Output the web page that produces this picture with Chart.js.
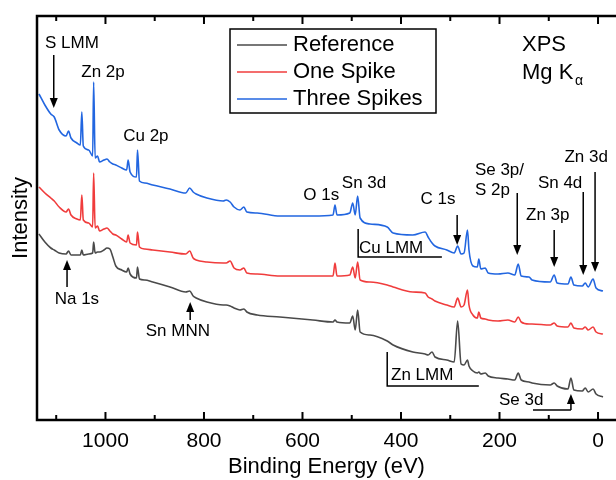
<!DOCTYPE html>
<html lang="en">
<head>
    <meta charset="UTF-8"/>
    <title>XPS survey</title>
    <style>
        body { margin: 0; background: #fff; }
        #chart { display: block; }
    </style>
    <script src="https://cdn.jsdelivr.net/npm/chart.js"></script>
</head>
<body>
    <canvas id="chart" width="616" height="480"></canvas>
    <script>
        // binding energy (eV), shared by the three spectra
        var energy = [1135, 1123, 1111, 1104, 1094, 1080, 1075, 1070, 1058, 1051, 1048, 1045, 1034, 1026, 1024, 1021,
            1016, 1012, 1003, 997, 991, 985, 979, 967, 957, 954, 950, 937, 935, 931, 920, 904, 869, 837, 829, 822,
            816, 794, 761, 755, 747, 739, 727, 719, 713, 692, 646, 579, 538, 534, 530, 504, 498, 493, 488, 483,
            463, 428, 416, 376, 351, 345, 337, 331, 307, 292, 285, 278, 272, 265, 262, 254, 245, 242, 238, 229,
            223, 203, 183, 169, 162, 156, 140, 134, 97, 89, 83, 61, 55, 49, 32, 26, 20, 10, 4, -10];

        // intensity (a.u., offset for display)
        var reference = [186, 178, 172, 170, 167, 166, 169, 165, 165, 165, 170, 165, 166, 167, 178, 167,
            168, 168, 170, 172, 171, 163, 154, 150, 148, 152, 146, 142, 153, 141, 140, 138, 133, 128, 129, 124,
            122, 118, 115, 115, 114, 112, 110, 111, 108, 105, 103, 100, 98, 100, 98, 97, 104, 90, 110, 88,
            85, 79, 75, 68, 66, 65, 68, 63, 60, 58, 99, 56, 55, 60, 54, 49, 47, 48, 46, 47,
            44, 42, 41, 40, 47, 40, 38, 37, 35, 37, 34, 31, 42, 30, 29, 32, 28, 31, 26, 23];

        var oneSpike = [233, 227, 222, 219, 213, 208, 211, 205, 201, 200, 225, 200, 197, 193, 247, 192,
            194, 189, 191, 192, 189, 186, 185, 181, 178, 185, 177, 175, 188, 173, 171, 170, 168, 166, 169, 162,
            160, 158, 157, 157, 159, 152, 150, 152, 147, 146, 144, 144, 144, 157, 144, 145, 153, 142, 158, 140,
            138, 135, 133, 128, 127, 123, 121, 119, 115, 113, 122, 113, 115, 130, 115, 105, 102, 108, 102, 101,
            100, 99, 100, 98, 103, 98, 96, 96, 95, 97, 94, 93, 97, 92, 91, 93, 90, 93, 88, 86];

        var threeSpikes = [326, 315, 306, 303, 290, 284, 289, 282, 277, 275, 308, 274, 270, 264, 338, 262,
            264, 258, 260, 261, 258, 256, 255, 252, 250, 260, 248, 243, 270, 239, 237, 235, 231, 227, 232, 228,
            226, 222, 219, 220, 218, 213, 210, 213, 208, 207, 204, 204, 205, 215, 205, 207, 217, 205, 224, 202,
            196, 193, 187, 185, 188, 183, 177, 174, 170, 167, 174, 166, 167, 190, 170, 154, 153, 161, 151, 152,
            147, 146, 147, 145, 156, 144, 143, 140, 138, 145, 137, 136, 143, 135, 134, 137, 133, 141, 132, 129];

        var majorTicks = [1000, 800, 600, 400, 200, 0];
        var minorTicks = [1100, 900, 700, 500, 300, 100];

        var FONT = 'Liberation Sans, Arial, sans-serif';

        // peak labels: text at (x eV, y a.u.), arrow from a to b
        var labels = [
            { text: 'S LMM', x: 1068, y: 377, arrow: [[1105, 365], [1105, 312]] },
            { text: 'Zn 2p', x: 1005, y: 348 },
            { text: 'Cu 2p', x: 918, y: 284 },
            { text: 'O 1s', x: 562, y: 225 },
            { text: 'Sn 3d', x: 475, y: 237 },
            { text: 'C 1s', x: 325, y: 221, arrow: [[286, 205], [286, 175]] },
            { text: 'Se 3p/', x: 250, y: 250, align: 'left' },
            { text: 'S 2p', x: 250, y: 230, align: 'left', arrow: [[164, 227], [164, 165]] },
            { text: 'Zn 3p', x: 102, y: 205, arrow: [[89, 190], [89, 153]] },
            { text: 'Sn 4d', x: 77, y: 237, arrow: [[30, 228], [30, 145]] },
            { text: 'Zn 3d', x: 24, y: 263, arrow: [[6, 248], [6, 148]] },
            { text: 'Cu LMM', x: 420, y: 172, bracket: [[487, 191], [487, 163], [317, 163]] },
            { text: 'Zn LMM', x: 357, y: 45, bracket: [[428, 68], [428, 34], [242, 34]] },
            { text: 'Se 3d', x: 156, y: 20, bracket: [[132, 10], [55, 10]], arrow: [[55, 10], [55, 26]] },
            { text: 'Na 1s', x: 1058, y: 121, arrow: [[1078, 133], [1078, 160]] },
            { text: 'Sn MNN', x: 853, y: 89, arrow: [[828, 100], [828, 118]] }
        ];

        function points(values) {
            return energy.map(function (e, i) { return { x: e, y: values[i] }; });
        }

        function drawArrow(ctx, x1, y1, x2, y2) {
            var ang = Math.atan2(y2 - y1, x2 - x1);
            ctx.beginPath();
            ctx.moveTo(x1, y1);
            ctx.lineTo(x2 - 8 * Math.cos(ang), y2 - 8 * Math.sin(ang));
            ctx.stroke();
            ctx.beginPath();
            ctx.moveTo(x2, y2);
            ctx.lineTo(x2 - 10 * Math.cos(ang) + 4 * Math.sin(ang), y2 - 10 * Math.sin(ang) - 4 * Math.cos(ang));
            ctx.lineTo(x2 - 10 * Math.cos(ang) - 4 * Math.sin(ang), y2 - 10 * Math.sin(ang) + 4 * Math.cos(ang));
            ctx.closePath();
            ctx.fill();
        }

        var decorations = {
            id: 'decorations',
            beforeDraw: function (chart) {
                var ctx = chart.ctx;
                ctx.save();
                ctx.fillStyle = '#fff';
                ctx.fillRect(0, 0, chart.width, chart.height);
                ctx.restore();
            },
            afterDraw: function (chart) {
                var ctx = chart.ctx;
                var area = chart.chartArea;
                var xs = chart.scales.x, ys = chart.scales.y;
                ctx.save();

                // frame (right edge falls outside the picture)
                ctx.strokeStyle = '#000';
                ctx.lineWidth = 2.5;
                ctx.beginPath();
                ctx.moveTo(area.right + 2, area.top);
                ctx.lineTo(area.left, area.top);
                ctx.lineTo(area.left, area.bottom);
                ctx.lineTo(area.right + 2, area.bottom);
                ctx.stroke();

                ctx.lineWidth = 2;
                majorTicks.concat(minorTicks).forEach(function (v) {
                    var len = majorTicks.indexOf(v) >= 0 ? 8 : 5;
                    var px = xs.getPixelForValue(v);
                    ctx.beginPath();
                    ctx.moveTo(px, area.bottom);
                    ctx.lineTo(px, area.bottom - len);
                    ctx.moveTo(px, area.top);
                    ctx.lineTo(px, area.top + len);
                    ctx.stroke();
                });

                // legend box
                ctx.lineWidth = 1.5;
                ctx.strokeRect(230, 29, 206, 84);
                ctx.font = '22px ' + FONT;
                ctx.textBaseline = 'middle';
                ctx.textAlign = 'left';
                chart.data.datasets.forEach(function (ds, i) {
                    var y = 45 + i * 27;
                    ctx.strokeStyle = ds.borderColor;
                    ctx.lineWidth = 1.5;
                    ctx.beginPath();
                    ctx.moveTo(237, y);
                    ctx.lineTo(287, y);
                    ctx.stroke();
                    ctx.fillStyle = '#000';
                    ctx.fillText(ds.label, 293, y);
                });

                ctx.fillText('XPS', 522, 45);
                ctx.fillText('Mg K', 522, 73);
                ctx.font = '14px ' + FONT;
                ctx.fillText('\u03b1', 575, 81);

                // peak labels
                ctx.font = '17px ' + FONT;
                ctx.strokeStyle = '#000';
                ctx.fillStyle = '#000';
                ctx.lineWidth = 1.5;
                labels.forEach(function (l) {
                    ctx.textAlign = l.align || 'center';
                    ctx.fillText(l.text, xs.getPixelForValue(l.x), ys.getPixelForValue(l.y));
                    if (l.bracket) {
                        ctx.beginPath();
                        l.bracket.forEach(function (p, j) {
                            var px = xs.getPixelForValue(p[0]), py = ys.getPixelForValue(p[1]);
                            if (j === 0) ctx.moveTo(px, py); else ctx.lineTo(px, py);
                        });
                        ctx.stroke();
                    }
                    if (l.arrow) {
                        drawArrow(ctx,
                            xs.getPixelForValue(l.arrow[0][0]), ys.getPixelForValue(l.arrow[0][1]),
                            xs.getPixelForValue(l.arrow[1][0]), ys.getPixelForValue(l.arrow[1][1]));
                    }
                });
                ctx.restore();
            }
        };

        Chart.defaults.font.family = FONT;
        Chart.defaults.color = '#000';

        new Chart(document.getElementById('chart').getContext('2d'), {
            type: 'line',
            data: {
                datasets: [
                    { label: 'Reference', data: points(reference), borderColor: '#4a4a4a' },
                    { label: 'One Spike', data: points(oneSpike), borderColor: '#f03c3c' },
                    { label: 'Three Spikes', data: points(threeSpikes), borderColor: '#2266e0' }
                ]
            },
            options: {
                responsive: false,
                animation: false,
                devicePixelRatio: 1,
                layout: { padding: { top: 16, left: 0, right: 0, bottom: 0 } },
                elements: {
                    point: { radius: 0 },
                    line: { borderWidth: 1.6, cubicInterpolationMode: 'monotone' }
                },
                plugins: {
                    legend: { display: false },
                    tooltip: { enabled: false }
                },
                scales: {
                    x: {
                        type: 'linear',
                        reverse: true,
                        min: -36.5,
                        max: 1139,
                        afterBuildTicks: function (s) {
                            s.ticks = majorTicks.map(function (v) { return { value: v }; });
                        },
                        afterFit: function (s) { s.height = 60; },
                        grid: { display: false, drawTicks: false },
                        border: { display: false },
                        ticks: {
                            font: { size: 21 }, color: '#000', padding: 9, maxRotation: 0, autoSkip: false,
                            callback: function (v) { return String(v); }
                        },
                        title: { display: true, text: 'Binding Energy (eV)', font: { size: 22 }, color: '#000', padding: { top: 0, bottom: 0 } }
                    },
                    y: {
                        min: 0,
                        max: 404,
                        afterFit: function (s) { s.width = 37; },
                        grid: { display: false, drawTicks: false },
                        border: { display: false },
                        ticks: { display: false },
                        title: { display: true, text: 'Intensity', font: { size: 22 }, color: '#000', padding: { top: 7.5, bottom: 0 } }
                    }
                }
            },
            plugins: [decorations]
        });
    </script>
</body>
</html>
